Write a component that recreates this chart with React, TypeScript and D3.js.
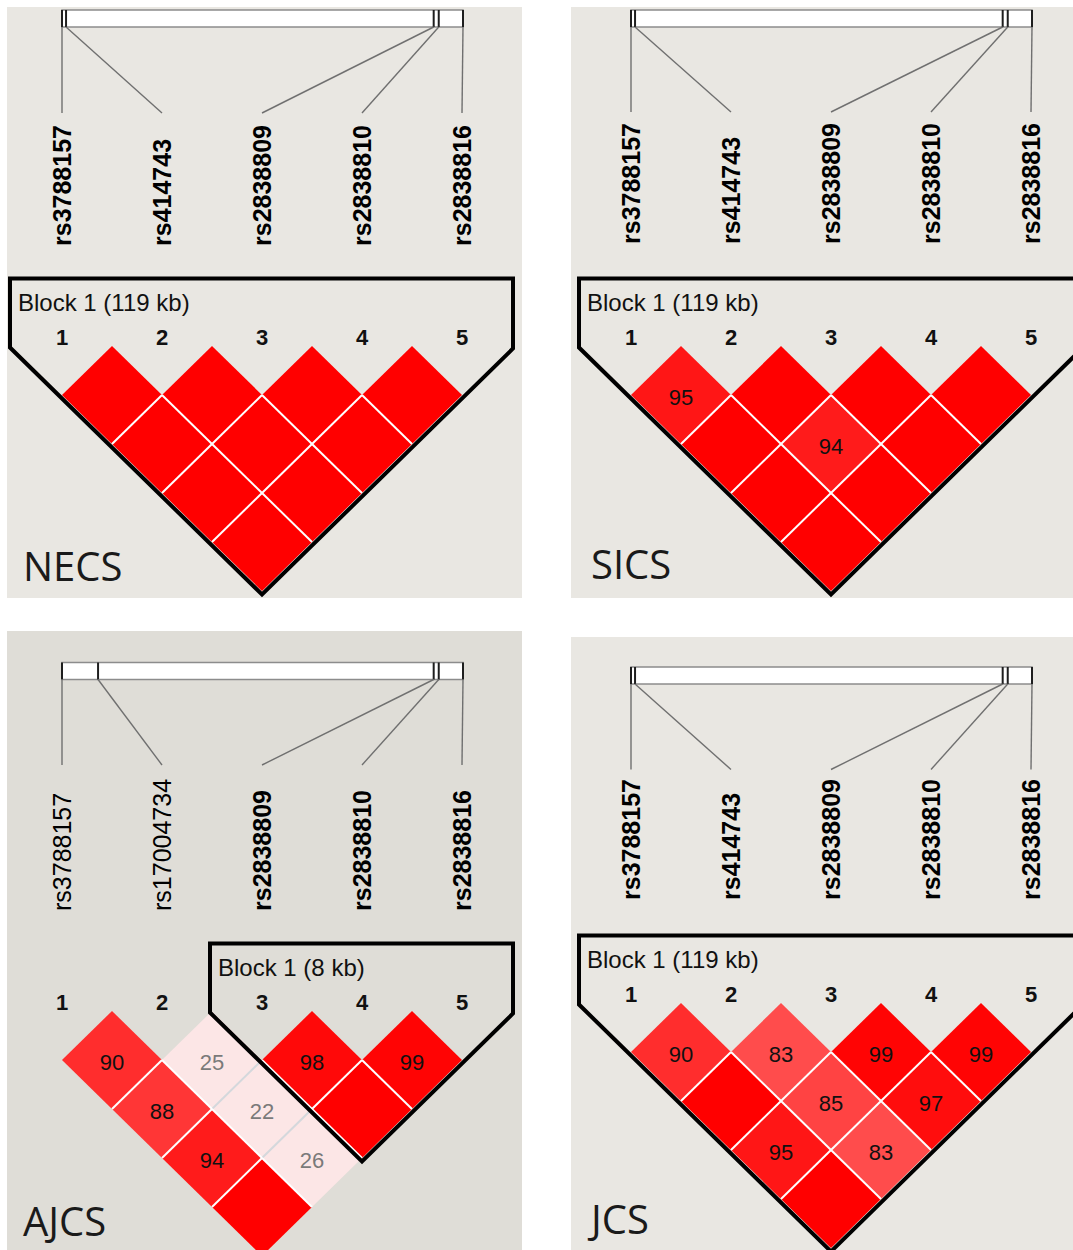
import React from "react";
import * as d3 from "d3";

// Marker names and genomic offsets (kb from the first marker)
const markerNames = ["rs3788157", "rs414743", "rs2838809", "rs2838810", "rs2838816"];
const markerNamesAJCS = ["rs3788157", "rs17004734", "rs2838809", "rs2838810", "rs2838816"];
const positionsKb = [0, 1.2, 110.3, 111.8, 119.0];
const positionsKbAJCS = [0, 10.7, 110.3, 111.8, 119.0];
const boldAll = [true, true, true, true, true];
const boldAJCS = [false, false, true, true, true];

// Pair order for the D' values below: (1,2) (1,3) (1,4) (1,5) (2,3) (2,4) (2,5) (3,4) (3,5) (4,5)
const pairOrder: [number, number][] = [
  [0, 1], [0, 2], [0, 3], [0, 4], [1, 2], [1, 3], [1, 4], [2, 3], [2, 4], [3, 4],
];
const dprimeNECS = [100, 100, 100, 100, 100, 100, 100, 100, 100, 100];
const dprimeSICS = [95, 100, 100, 100, 100, 94, 100, 100, 100, 100];
const dprimeAJCS = [90, 88, 94, 100, 25, 22, 26, 98, 100, 99];
const dprimeJCS = [90, 100, 95, 100, 83, 85, 83, 99, 97, 99];

// Haplotype blocks: first and last marker (0-based)
const blockFull: [number, number] = [0, 4];
const blockAJCS: [number, number] = [2, 4];

const populations = ["NECS", "SICS", "AJCS", "JCS"];

type PanelSpec = {
  name: string;
  markers: string[];
  positions: number[];
  bold: boolean[];
  dprime: number[];
  block: [number, number];
  dx: number;
  rect: [number, number, number, number];
  bg: string;
  barTop: number;
  connEnd: number;
  labelBottom: number;
  blockTop: number;
  nameY: number;
};

const panels: PanelSpec[] = [
  {
    name: populations[0], markers: markerNames, positions: positionsKb, bold: boldAll,
    dprime: dprimeNECS, block: blockFull, dx: 0, rect: [7, 7, 515, 591], bg: "#E9E7E2",
    barTop: 10, connEnd: 113, labelBottom: 246, blockTop: 278.5, nameY: 581,
  },
  {
    name: populations[1], markers: markerNames, positions: positionsKb, bold: boldAll,
    dprime: dprimeSICS, block: blockFull, dx: 569, rect: [571, 7, 502, 591], bg: "#E9E7E2",
    barTop: 10, connEnd: 112, labelBottom: 244, blockTop: 278.5, nameY: 579,
  },
  {
    name: populations[2], markers: markerNamesAJCS, positions: positionsKbAJCS, bold: boldAJCS,
    dprime: dprimeAJCS, block: blockAJCS, dx: 0, rect: [7, 631, 515, 619], bg: "#DFDDD7",
    barTop: 662.5, connEnd: 765, labelBottom: 911, blockTop: 943.5, nameY: 1236,
  },
  {
    name: populations[3], markers: markerNames, positions: positionsKb, bold: boldAll,
    dprime: dprimeJCS, block: blockFull, dx: 569, rect: [571, 637, 502, 613], bg: "#E9E7E2",
    barTop: 667, connEnd: 769.5, labelBottom: 900, blockTop: 935.5, nameY: 1234,
  },
];

const FONT = "'Liberation Sans', Arial, sans-serif";
const HW = 50; // half width of an LD diamond
const HH = 49; // half height of an LD diamond
const BAR_H = 17;

// Standard D'/LOD colouring: shades of red for D' >= 0.5, pale pink below
const redShade = d3.scaleLinear().domain([0.5, 1]).range([223, 0]).clamp(true);
const cellColor = (d: number) => {
  if (d < 0.5) return "rgb(252,230,230)";
  const g = Math.round(redShade(d));
  return d3.rgb(255, g, g).formatRgb();
};

function Panel({ p }: { p: PanelSpec }) {
  const n = p.markers.length;
  const xm = d3.scalePoint<number>().domain(d3.range(n)).range([p.dx + 62, p.dx + 462]);
  const xg = d3.scaleLinear().domain([0, d3.max(p.positions) as number]).range([p.dx + 62, p.dx + 463]);
  const yRow1 = p.blockTop + 116.5;
  const slope = HH / HW;

  const cells = pairOrder.map(([i, j], k) => {
    const d = p.dprime[k] / 100;
    const cx = ((xm(i) as number) + (xm(j) as number)) / 2;
    const cy = yRow1 + (j - i - 1) * HH;
    return { i, j, d, v: p.dprime[k], cx, cy };
  });
  const cellAt = (i: number, j: number) => cells.find((c) => c.i === i && c.j === j);

  const diamond = d3.line<[number, number]>();
  const [a, b] = p.block;
  const xa = xm(a) as number;
  const xb = xm(b) as number;
  const left = xa - 52;
  const right = xb + 51;
  const outline: [number, number][] = [
    [left, p.blockTop],
    [right, p.blockTop],
    [right, yRow1 + 3.5 - (right - xb) * slope],
    [(xa + xb) / 2, yRow1 + 3.5 + (b - a) * HH],
    [left, yRow1 + 3.5 - (xa - left) * slope],
  ];
  const kb = Math.floor(p.positions[b] - p.positions[a]);

  // interior separators between neighbouring cells
  const seps: { x1: number; y1: number; x2: number; y2: number; c: string }[] = [];
  cells.forEach((c) => {
    const rr = cellAt(c.i, c.j + 1);
    if (rr) {
      const pale = c.d < 0.5 && rr.d < 0.5;
      seps.push({ x1: c.cx + HW, y1: c.cy, x2: c.cx, y2: c.cy + HH, c: pale ? "#d4d8dc" : "#ffffff" });
    }
    const ll = cellAt(c.i - 1, c.j);
    if (ll) {
      const pale = c.d < 0.5 && ll.d < 0.5;
      seps.push({ x1: c.cx - HW, y1: c.cy, x2: c.cx, y2: c.cy + HH, c: pale ? "#d4d8dc" : "#ffffff" });
    }
  });

  return (
    <g>
      <rect x={p.rect[0]} y={p.rect[1]} width={p.rect[2]} height={p.rect[3]} fill={p.bg} />
      {/* gene map bar */}
      <rect
        x={xg(0)} y={p.barTop} width={xg(d3.max(p.positions) as number) - xg(0)} height={BAR_H}
        fill="#ffffff" stroke="#8c8c8c" strokeWidth={1.5}
      />
      {p.positions.map((pos, i) => (
        <line key={"t" + i} x1={xg(pos)} x2={xg(pos)} y1={p.barTop} y2={p.barTop + BAR_H} stroke="#1e1e1e" strokeWidth={2} />
      ))}
      {p.positions.map((pos, i) => (
        <line key={"c" + i} x1={xg(pos)} y1={p.barTop + BAR_H} x2={xm(i)} y2={p.connEnd} stroke="#707070" strokeWidth={1.4} />
      ))}
      {p.markers.map((m, i) => (
        <text
          key={"m" + i}
          transform={`translate(${xm(i)},${p.labelBottom}) rotate(-90)`}
          dy="0.36em"
          fontFamily={FONT}
          fontSize={25}
          fontWeight={p.bold[i] ? "bold" : "normal"}
          fill="#000"
        >
          {m}
        </text>
      ))}
      {/* LD diamonds */}
      {cells.map((c, k) => (
        <path
          key={"d" + k}
          d={diamond([[c.cx, c.cy - HH], [c.cx + HW, c.cy], [c.cx, c.cy + HH], [c.cx - HW, c.cy]])! + "Z"}
          fill={cellColor(c.d)}
        />
      ))}
      {seps.map((s, k) => (
        <line key={"s" + k} x1={s.x1} y1={s.y1} x2={s.x2} y2={s.y2} stroke={s.c} strokeWidth={2} />
      ))}
      {/* block outline */}
      <path d={diamond(outline)! + "Z"} fill="none" stroke="#000" strokeWidth={4} strokeLinejoin="miter" />
      <text x={left + 8} y={p.blockTop + 32} fontFamily={FONT} fontSize={24} fill="#111">
        {`Block 1 (${kb} kb)`}
      </text>
      {p.markers.map((_, i) => (
        <text key={"n" + i} x={xm(i)} y={p.blockTop + 66.5} textAnchor="middle" fontFamily={FONT} fontSize={22} fontWeight="bold" fill="#111">
          {i + 1}
        </text>
      ))}
      {cells.filter((c) => c.v < 100).map((c, k) => (
        <text
          key={"v" + k}
          x={c.cx}
          y={c.cy + 10}
          textAnchor="middle"
          fontFamily={FONT}
          fontSize={22}
          fill={c.d < 0.5 ? "#7a7a7a" : "#111"}
        >
          {c.v}
        </text>
      ))}
      <text x={p.rect[0] + (p.dx ? 20 : 16)} y={p.nameY} fontFamily="'Open Sans', 'Noto Sans', sans-serif" fontSize={40} fill="#1a1a1a">
        {p.name}
      </text>
    </g>
  );
}

export default function App() {
  return (
    <svg
      width={1073}
      height={1250}
      style={{ position: "absolute", left: 0, top: 0, display: "block", background: "#ffffff" }}
    >
      {panels.map((p) => (
        <Panel key={p.name} p={p} />
      ))}
    </svg>
  );
}
